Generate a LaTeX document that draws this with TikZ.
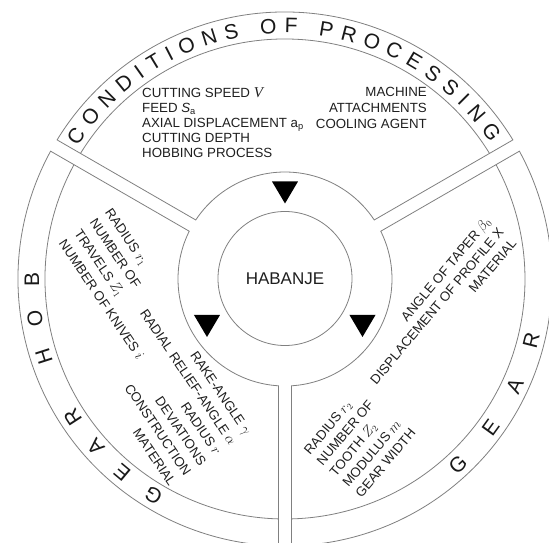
\documentclass[tikz,border=0pt]{standalone}
\usepackage{fontspec}
\setmainfont{Liberation Sans}
\newfontfamily\serifface{Liberation Serif}
\usetikzlibrary{decorations.text}

% font sizes
\newcommand\bodyfont{\fontsize{13.3}{15}\selectfont}
\newcommand\bandfont{\fontsize{21}{21}\selectfont}
\newcommand\corefont{\fontsize{17}{17}\selectfont}

% radii of the wheel and half-gap offsets (in degrees) of the sector edges
\def\Rout{267pt}
\def\Rband{240pt}
\def\Rring{107pt}
\def\dout{1.395}
\def\dband{1.552}
\def\din{3.483}

\tikzset{
  sectorline/.style={draw=black!50, line width=0.8pt},
  rowtext/.style={inner sep=0pt, font=\bodyfont, text=black!88, transform shape},
  bandtext/.style={decorate, decoration={text along path, text align=fit to path, text color=black!90}},
  marker/.style={fill=black},
}

% one sector of the wheel, from angle #1 to angle #2 (counter-clockwise)
\newcommand\wheelsector[2]{%
  \draw[sectorline] ({#1+\dout}:\Rout) arc[start angle={#1+\dout}, end angle={#2-\dout}, radius=\Rout]
    -- ({#2-\din}:\Rring) arc[start angle={#2-\din}, end angle={#1+\din}, radius=\Rring] -- cycle;
  \draw[sectorline] ({#1+\dband}:\Rband) arc[start angle={#1+\dband}, end angle={#2-\dband}, radius=\Rband];
}

\begin{document}
\begin{tikzpicture}[x=1pt, y=1pt]
  \fill[white] (-285,-264) rectangle (264,279);
  \useasboundingbox (-285,-264) rectangle (264,279);
  \clip (-285,-264) rectangle (264,279);

  % the three sectors
  \wheelsector{30}{150}
  \wheelsector{150}{270}
  \wheelsector{270}{390}

  % centre
  \node[circle, draw=black!50, line width=0.8pt, minimum size=134pt, inner sep=0pt,
        font=\corefont, text=black!88] (core) at (0,0.5) {HABANJE};

  % markers
  \coordinate (mtop) at (0,86.5);
  \coordinate (mleft) at (-78,-47);
  \coordinate (mright) at (77.5,-47);
  \foreach \m in {mtop,mleft,mright}
    \fill[marker] (\m) ++(-13,11) -- ++(26,0) -- ++(-13,-22) -- cycle;

  % band titles
  \path[bandtext, decoration={text={|\bandfont|CONDITIONS OF PROCESSING}}]
    (147.4:246pt) arc[start angle=147.4, end angle=33.5, radius=246pt];
  \path[bandtext, decoration={text={|\bandfont|GEAR HOB}}]
    (240.6:246pt) arc[start angle=240.6, end angle=178.6, radius=246pt];
  \path[bandtext, decoration={text={|\bandfont|GEAR}}]
    (311.2:261pt) arc[start angle=311.2, end angle=347.6, radius=261pt];

  % conditions of processing
  \begin{scope}[shift={(-143,181.4)}]
    \node[rowtext, anchor=base west] (c1) at (0,0) {CUTTING SPEED {\serifface\itshape\fontsize{15}{15}\selectfont V}};
    \node[rowtext, anchor=base west] (c2) at (0,-15) {FEED {\itshape S}\textsubscript{a}};
    \node[rowtext, anchor=base west] (c3) at (0,-30) {AXIAL DISPLACEMENT a\textsubscript{p}};
    \node[rowtext, anchor=base west] (c4) at (0,-45) {CUTTING DEPTH};
    \node[rowtext, anchor=base west] (c5) at (0,-60) {HOBBING PROCESS};
  \end{scope}
  \begin{scope}[shift={(142,182)}]
    \node[rowtext, anchor=base east] (c6) at (0,0) {MACHINE};
    \node[rowtext, anchor=base east] (c7) at (0,-15.75) {ATTACHMENTS};
    \node[rowtext, anchor=base east] (c8) at (0,-31.5) {COOLING AGENT};
  \end{scope}

  % gear hob
  \begin{scope}[shift={(-180.4,66.7)}, rotate=-56]
    \node[rowtext, anchor=base west] (h1) at (0,0) {RADIUS $r_1$};
    \node[rowtext, anchor=base west] (h2) at (0,-18.6) {NUMBER OF};
    \node[rowtext, anchor=base west] (h3) at (0,-37.2) {TRAVELS $Z_1$};
    \node[rowtext, anchor=base west] (h4) at (0,-55.8) {NUMBER OF KNIVES $i$};
  \end{scope}
  \begin{scope}[shift={(-40.4,-157.3)}, rotate=-56]
    \node[rowtext, anchor=base east] (h5) at (0,0) {RAKE-ANGLE $\gamma$};
    \node[rowtext, anchor=base east] (h6) at (0,-18.2) {RADIAL RELIEF-ANGLE $\alpha$};
    \node[rowtext, anchor=base east] (h7) at (0,-36.4) {RADIUS $r$};
    \node[rowtext, anchor=base east] (h8) at (0,-54.6) {DEVIATIONS};
    \node[rowtext, anchor=base east] (h9) at (0,-72.8) {CONSTRUCTION};
    \node[rowtext, anchor=base east] (h10) at (0,-91) {MATERIAL};
  \end{scope}

  % gear
  \begin{scope}[shift={(206.5,57)}, rotate=50]
    \node[rowtext, anchor=base east] (g1) at (0,0) {ANGLE OF TAPER $\beta_0$};
    \node[rowtext, anchor=base east] (g2) at (0,-16.8) {DISPLACEMENT OF PROFILE X};
    \node[rowtext, anchor=base east] (g3) at (0,-33.6) {MATERIAL};
  \end{scope}
  \begin{scope}[shift={(25,-176.6)}, rotate=50]
    \node[rowtext, anchor=base west] (g4) at (0,0) {RADIUS $r_2$};
    \node[rowtext, anchor=base west] (g5) at (0,-16.8) {NUMBER OF};
    \node[rowtext, anchor=base west] (g6) at (0,-33.6) {TOOTH $Z_2$};
    \node[rowtext, anchor=base west] (g7) at (0,-50.4) {MODULUS $m$};
    \node[rowtext, anchor=base west] (g8) at (0,-67.2) {GEAR WIDTH};
  \end{scope}
\end{tikzpicture}
\end{document}
